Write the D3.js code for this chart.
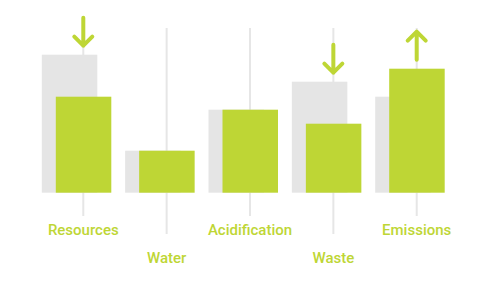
<!DOCTYPE html>
<html>
  <head>
    <style>
      body { margin: 0; background: #fff; }
      .guide { stroke: #e6e6e6; stroke-width: 2; }
      .label { fill: #bed635; font-family: Roboto, sans-serif; font-size: 15px; font-weight: 500; }
      .arrow { fill: none; stroke: #bed635; stroke-width: 4; stroke-linecap: round; stroke-linejoin: round; }
    </style>
    <script src="https://d3js.org/d3.v7.min.js"></script>
  </head>
  <body>
    <svg id="chart" width="499" height="290"></svg>

    <script>
      var categories = ["Resources", "Water", "Acidification", "Waste", "Emissions"];
      var before = [138, 42, 83, 111, 96];
      var after = [96, 42, 83, 69, 124];
      var trend = ["down", null, null, "down", "up"];

      var svg = d3.select("#chart");
      var baseY = 192.7;
      var barW = 55.5;

      var x = d3.scalePoint().domain(categories).range([83.3, 416.7]);
      var y = d3.scaleLinear().domain([0, 160]).range([baseY, baseY - 160]);

      // vertical guide lines, alternating length
      categories.forEach(function(c, i) {
        svg.append("line")
          .attr("class", "guide")
          .attr("x1", x(c)).attr("x2", x(c))
          .attr("y1", 28)
          .attr("y2", i % 2 ? 234 : 216);
      });

      // previous values (grey)
      svg.selectAll(".before").data(categories).enter().append("rect")
        .attr("x", function(d) { return x(d) - 41.5; })
        .attr("y", function(d, i) { return y(before[i]); })
        .attr("width", barW)
        .attr("height", function(d, i) { return baseY - y(before[i]); })
        .attr("fill", "#e5e5e5");

      // current values (green)
      svg.selectAll(".after").data(categories).enter().append("rect")
        .attr("x", function(d) { return x(d) - 27.5; })
        .attr("y", function(d, i) { return y(after[i]); })
        .attr("width", barW)
        .attr("height", function(d, i) { return baseY - y(after[i]); })
        .attr("fill", "#bed635");

      // arrows
      categories.forEach(function(c, i) {
        if (!trend[i]) return;
        var cx = x(c);
        var bottom = y(Math.max(before[i], after[i])) - 9;
        var top = bottom - 28;
        var path;
        if (trend[i] === "down") {
          path = "M" + cx + "," + top + "V" + bottom +
            "M" + (cx - 9) + "," + (bottom - 9) + "L" + cx + "," + bottom + "L" + (cx + 9) + "," + (bottom - 9);
        } else {
          path = "M" + cx + "," + bottom + "V" + top +
            "M" + (cx - 9) + "," + (top + 9) + "L" + cx + "," + top + "L" + (cx + 9) + "," + (top + 9);
        }
        svg.append("path").attr("class", "arrow").attr("d", path);
      });

      // labels
      svg.selectAll(".label").data(categories).enter().append("text")
        .attr("class", "label")
        .attr("x", function(d) { return x(d); })
        .attr("y", function(d, i) { return i % 2 ? 262.5 : 235; })
        .attr("text-anchor", "middle")
        .text(function(d) { return d; });
    </script>
  </body>
</html>
